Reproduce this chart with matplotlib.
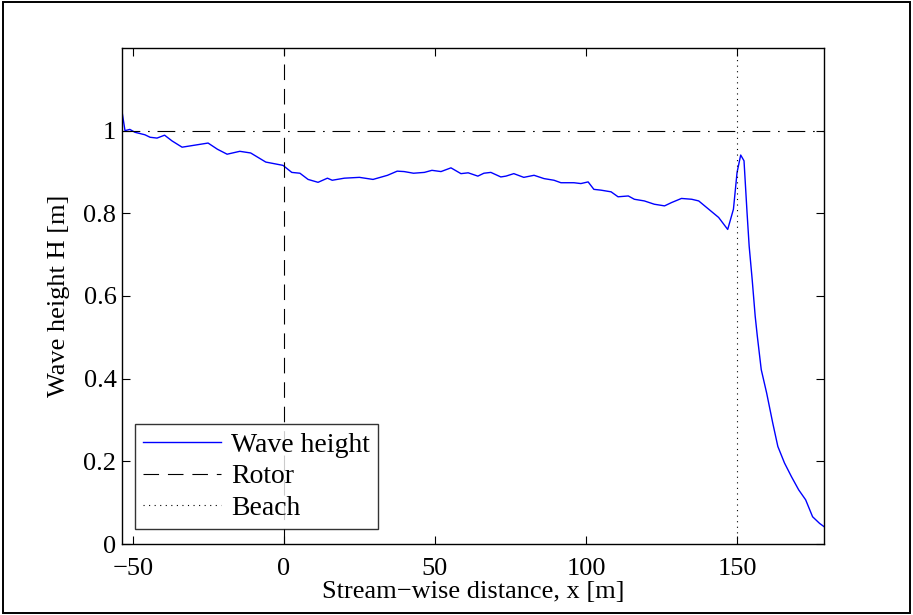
import matplotlib
matplotlib.use("Agg")
import matplotlib.pyplot as plt
from matplotlib.patches import Rectangle

# stream-wise position [m] and wave height [m]
x = [-53.6, -52.6, -51, -49.3, -46, -44.3, -42, -39.5, -37, -33.7, -29.4, -25.1, -22,
     -18.8, -14.6, -11, -6, -0.3, 2.6, 5.3, 8, 11.3, 14.4, 16, 20, 25, 29.5, 34.3,
     37.5, 39.8, 42.9, 46.5, 49, 52, 55.3, 58.6, 61, 64.2, 66.2, 68.5, 71.8, 73.5,
     76.1, 79.4, 82.8, 86.1, 89.4, 91.7, 96, 98.3, 100.7, 102.6, 105, 108.3, 110.6,
     114, 116, 119.3, 122.6, 126, 128.3, 131.6, 135, 137.3, 140.6, 143.9, 146.9,
     148.8, 150, 151.2, 152.3, 153.3, 154, 155, 156, 156.7, 158, 159.8, 161.8, 163.5,
     165.7, 168, 170.4, 172.7, 175, 177.3, 178.8]
H = [1.047, 1.0, 1.003, 0.996, 0.99, 0.984, 0.982, 0.989, 0.975, 0.96, 0.965, 0.97,
     0.955, 0.943, 0.95, 0.946, 0.924, 0.916, 0.899, 0.897, 0.882, 0.875, 0.885, 0.88,
     0.885, 0.887, 0.882, 0.892, 0.902, 0.901, 0.897, 0.899, 0.904, 0.901, 0.910, 0.896,
     0.898, 0.890, 0.897, 0.899, 0.888, 0.890, 0.896, 0.887, 0.892, 0.884, 0.880, 0.874,
     0.874, 0.872, 0.876, 0.858, 0.856, 0.852, 0.840, 0.842, 0.834, 0.830, 0.822, 0.818,
     0.826, 0.836, 0.834, 0.830, 0.810, 0.790, 0.761, 0.81, 0.899, 0.941, 0.927, 0.802,
     0.721, 0.64, 0.551, 0.503, 0.422, 0.365, 0.293, 0.236, 0.196, 0.163, 0.131, 0.107,
     0.066, 0.05, 0.042]

x_rotor = 0
x_beach = 150
H_incident = 1.0
xticks = [-50, 0, 50, 100, 150]
yticks = [0, 0.2, 0.4, 0.6, 0.8, 1.0]
ylabels = ["0", "0.2", "0.4", "0.6", "0.8", "1"]

plt.rcParams['font.family'] = ['Liberation Serif', 'DejaVu Serif']
plt.rcParams['font.size'] = 19

fig = plt.figure(figsize=(9.13, 6.15), dpi=100)
ax = fig.add_axes([0.1336, 0.1154, 0.769, 0.8066])

ax.plot(x, H, color='#0000ff', lw=1.0, label='Wave height')
ax.axvline(x_rotor, color='k', lw=0.8, ls=(0, (14, 8)), label='Rotor')
ax.axvline(x_beach, color='k', lw=0.8, ls=(0, (1, 4)), label='Beach')
ax.axhline(H_incident, color='k', lw=0.8, ls=(0, (16, 7, 1.5, 7)))

ax.set_xlim(-53.6, 178.8)
ax.set_ylim(0, 1.2)
ax.set_xticks(xticks)
ax.set_yticks(yticks)
ax.set_yticklabels(ylabels)
ax.tick_params(direction='in', top=True, right=True, length=6, width=0.8, labelsize=19)
ax.tick_params(axis='x', pad=10)
ax.tick_params(axis='y', pad=4)
for s in ax.spines.values():
    s.set_linewidth(1.0)

ax.set_xlabel('Stream\u2212wise distance, x [m]', fontsize=19, labelpad=1)
ax.set_ylabel('Wave height H [m]', fontsize=19, labelpad=10)

leg = ax.legend(loc='lower left', bbox_to_anchor=(0.0185, 0.03), fontsize=20,
                frameon=True, fancybox=False, handlelength=2.8, handletextpad=0.35,
                borderpad=0.3, labelspacing=0.22, borderaxespad=0)
leg.get_frame().set_edgecolor('k')
leg.get_frame().set_linewidth(1.0)

fig.patches.append(Rectangle((0.003, 0.004), 0.994, 0.992, transform=fig.transFigure,
                             fill=False, edgecolor='k', lw=1.4))

fig.savefig('out.png', dpi=100)
